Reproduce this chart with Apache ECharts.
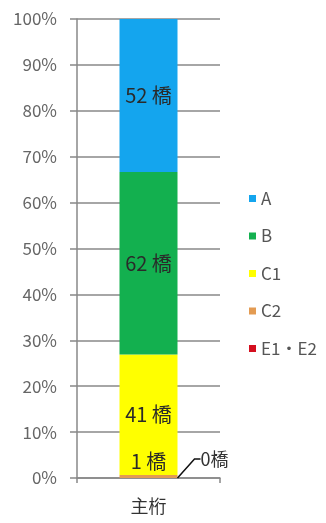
<!DOCTYPE html>
<html>
<head>
<meta charset="utf-8">
<script src="https://cdn.jsdelivr.net/npm/echarts@6/dist/echarts.min.js"></script>
<style>
  html, body { margin: 0; padding: 0; background: #fff; }
  #chart { width: 326px; height: 523px; }
</style>
</head>
<body>
<div id="chart"></div>
<script>
// Bridge-count breakdown for main girders, by condition grade
const categories = ['主桁'];
const seriesNames = ['E1・E2', 'C2', 'C1', 'B', 'A'];   // bottom to top
const bridgeCounts = [0, 1, 41, 62, 52];                 // number of bridges per grade
const seriesColors = ['#d40f1f', '#e39b52', '#ffff00', '#13b04f', '#14a5ee'];
const legendOrder = ['A', 'B', 'C1', 'C2', 'E1・E2'];
const yTicks = [0, 10, 20, 30, 40, 50, 60, 70, 80, 90, 100];

const total = bridgeCounts.reduce((a, b) => a + b, 0);
const font = '"Noto Sans CJK JP", "Liberation Sans", sans-serif';

function labelFor(i) {
  const base = {
    show: true,
    fontFamily: font,
    fontSize: 20,
    color: '#2a2a2a',
    formatter: () => bridgeCounts[i] + (bridgeCounts[i] === 0 ? '橋' : ' 橋')
  };
  if (seriesNames[i] === 'C2') {
    return Object.assign(base, { position: 'top', distance: 4 });
  }
  if (seriesNames[i] === 'E1・E2') {
    return Object.assign(base, { position: 'right', distance: 5, fontSize: 18, color: '#333' });
  }
  return Object.assign(base, { position: 'inside' });
}

const series = seriesNames.map((name, i) => {
  const s = {
    name: name,
    type: 'bar',
    stack: 'total',
    barWidth: 58,
    itemStyle: { color: seriesColors[i] },
    data: [bridgeCounts[i] / total * 100],
    label: labelFor(i)
  };
  if (name === 'E1・E2') {
    s.labelLayout = { dx: 18, dy: -19 };
    s.labelLine = { show: true, length2: 6, lineStyle: { color: '#111', width: 1.5 } };
    s.z = 3;
  }
  return s;
});

const chart = echarts.init(document.getElementById('chart'), null, { renderer: 'canvas' });
chart.setOption({
  animation: false,
  backgroundColor: '#fff',
  grid: { left: 77, right: 106, top: 19, bottom: 45 },
  legend: {
    orient: 'vertical',
    left: 244,
    top: 185,
    data: legendOrder,
    icon: 'rect',
    itemWidth: 7,
    itemHeight: 7,
    itemGap: 20.5,
    textStyle: { fontFamily: font, fontSize: 17, color: '#555' }
  },
  xAxis: {
    type: 'category',
    data: categories,
    axisLine: { lineStyle: { color: '#888', width: 1.5 } },
    axisTick: { show: true, length: 5, lineStyle: { color: '#888', width: 1.5 } },
    axisLabel: { margin: 19, fontFamily: font, fontSize: 18, color: '#333' }
  },
  yAxis: {
    type: 'value',
    min: yTicks[0],
    max: yTicks[yTicks.length - 1],
    interval: 10,
    axisLine: { show: true, lineStyle: { color: '#888', width: 1.5 } },
    axisTick: { show: true, length: 7, lineStyle: { color: '#888', width: 1.5 } },
    splitLine: { show: true, lineStyle: { color: '#888', width: 1.5 } },
    axisLabel: {
      margin: 20,
      fontFamily: font,
      fontSize: 17,
      color: '#666',
      formatter: '{value}%'
    }
  },
  series: series
});
</script>
</body>
</html>
